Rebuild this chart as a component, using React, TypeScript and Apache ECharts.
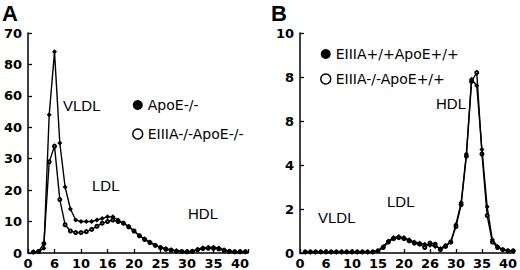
import React, { useEffect, useRef } from "react";
import * as echarts from "echarts";

// Fraction numbers
const FRACTIONS = [
  1, 2, 3, 4, 5, 6, 7, 8, 9, 10, 11, 12, 13, 14, 15, 16, 17, 18, 19, 20, 21,
  22, 23, 24, 25, 26, 27, 28, 29, 30, 31, 32, 33, 34, 35, 36, 37, 38, 39, 40, 41,
];

// Panel A
const A_APOE_KO = [
  0.3, 0.5, 1.5, 44, 64, 35, 21, 14, 10.5, 10, 10, 10, 10.5, 11, 11.5, 11.5, 10.5,
  9.5, 8.5, 7, 5.5, 4.5, 3.5, 2.5, 1.8, 1.4, 1.0, 0.7, 0.5, 0.4, 0.6, 1.2, 1.7, 1.8,
  1.8, 1.6, 1.0, 0.6, 0.4, 0.4, 0.4,
];
const A_EIIIA_KO_APOE_KO = [
  0.3, 0.5, 3, 29, 34, 17, 9, 7, 6.5, 6.5, 6.8, 7.5, 8.5, 9.5, 10, 10.5, 10, 9.5,
  8.3, 7, 5.5, 4.3, 3.3, 2.4, 1.7, 1.2, 0.9, 0.6, 0.5, 0.4, 0.5, 1.0, 1.4, 1.5, 1.5,
  1.3, 0.8, 0.5, 0.4, 0.4, 0.4,
];

// Panel B
const B_WT = [
  0.05, 0.05, 0.05, 0.05, 0.05, 0.05, 0.05, 0.05, 0.05, 0.05, 0.05, 0.05, 0.05,
  0.05, 0.1, 0.3, 0.55, 0.7, 0.75, 0.7, 0.6, 0.5, 0.45, 0.4, 0.35, 0.3, 0.2, 0.35,
  0.5, 1.3, 2.3, 4.5, 7.9, 7.6, 4.7, 2.1, 0.6, 0.3, 0.15, 0.1, 0.1,
];
const B_EIIIA_KO = [
  0.05, 0.05, 0.05, 0.05, 0.05, 0.05, 0.05, 0.05, 0.05, 0.05, 0.05, 0.05, 0.05,
  0.05, 0.1, 0.25, 0.5, 0.65, 0.7, 0.65, 0.55, 0.45, 0.4, 0.25, 0.45, 0.4, 0.15,
  0.3, 0.5, 1.2, 2.2, 4.4, 7.8, 8.2, 4.5, 1.7, 0.5, 0.25, 0.15, 0.1, 0.1,
];

const A_Y_LABELS: Record<number, string> = {
  0: "0", 10: "10", 20: "20", 30: "30", 40: "40", 50: "60", 60: "80", 70: "70",
};
const A_X_LABELS: Record<number, string> = {
  0: "0", 5: "6", 10: "10", 15: "16", 20: "20", 25: "25", 30: "30", 35: "35", 40: "40",
};
const B_Y_LABELS: Record<number, string> = {
  0: "0", 2: "2", 4: "4", 6: "8", 8: "8", 10: "10",
};
const B_X_LABELS: Record<number, string> = {
  0: "0", 5: "6", 10: "10", 15: "15", 20: "20", 25: "26", 30: "30", 35: "35", 40: "40",
};

const NAMES = ["ApoE-/-", "EIIIA-/-ApoE-/-", "EIIIA+/+ApoE+/+", "EIIIA-/-ApoE+/+"];

const pairs = (vals: number[]) => FRACTIONS.map((f, i) => [f, vals[i]]);

export default function App() {
  const ref = useRef<HTMLDivElement>(null);
  useEffect(() => {
    if (!ref.current) return;
    const chart = echarts.init(ref.current, undefined, { renderer: "svg" });
    const tickFont = {
      color: "#000",
      fontFamily: "DejaVu Sans",
      fontWeight: "bold" as const,
      fontSize: 13,
    };
    const axisCommon = {
      axisLine: { show: true, lineStyle: { color: "#000", width: 1.5 } },
      axisTick: { show: true, inside: true, length: 4, lineStyle: { color: "#000", width: 1.3 } },
      splitLine: { show: false },
    };
    const lineSeries = (name: string, data: number[], xi: number, filled: boolean) => ({
      type: "line",
      name,
      xAxisIndex: xi,
      yAxisIndex: xi,
      data: pairs(data),
      symbol: filled ? "diamond" : "emptyCircle",
      symbolSize: filled ? 5 : 3,
      showAllSymbol: true,
      lineStyle: { color: "#000", width: 1.4 },
      itemStyle: filled
        ? { color: "#000" }
        : { color: "#000", borderColor: "#000", borderWidth: 1 },
      z: filled ? 3 : 2,
    });
    const legendText = { color: "#000", fontFamily: "DejaVu Sans", fontSize: 14 };
    const annot = (text: string, x: number, y: number) => ({
      type: "text",
      x,
      y,
      style: {
        text,
        fill: "#000",
        font: "15px 'Liberation Sans', Arial, sans-serif",
        textVerticalAlign: "middle",
      },
    });
    chart.setOption({
      animation: false,
      backgroundColor: "#fff",
      grid: [
        { left: 28, top: 33, width: 220, height: 221 },
        { left: 300, top: 33, width: 218, height: 220 },
      ],
      xAxis: [
        {
          gridIndex: 0,
          type: "value",
          min: 0,
          max: 41.5,
          interval: 5,
          ...axisCommon,
          axisLabel: {
            ...tickFont,
            margin: 4,
            formatter: (v: number) => A_X_LABELS[v] ?? "",
          },
        },
        {
          gridIndex: 1,
          type: "value",
          min: 0,
          max: 41.2,
          interval: 5,
          ...axisCommon,
          axisLabel: {
            ...tickFont,
            margin: 4,
            formatter: (v: number) => B_X_LABELS[v] ?? "",
          },
        },
      ],
      yAxis: [
        {
          gridIndex: 0,
          type: "value",
          min: 0,
          max: 70,
          interval: 10,
          ...axisCommon,
          axisLabel: {
            ...tickFont,
            margin: 6,
            formatter: (v: number) => A_Y_LABELS[v] ?? "",
          },
        },
        {
          gridIndex: 1,
          type: "value",
          min: 0,
          max: 10,
          interval: 2,
          ...axisCommon,
          axisLabel: {
            ...tickFont,
            margin: 6,
            formatter: (v: number) => B_Y_LABELS[v] ?? "",
          },
        },
      ],
      legend: [
        {
          left: 127,
          top: 93,
          orient: "vertical",
          itemWidth: 10,
          itemHeight: 10,
          itemGap: 15,
          textStyle: legendText,
          selectedMode: false,
          data: [
            { name: NAMES[0], icon: "circle", itemStyle: { color: "#000", borderWidth: 0 } },
            {
              name: NAMES[1],
              icon: "circle",
              itemStyle: { color: "#fff", borderColor: "#000", borderWidth: 1.5 },
            },
          ],
        },
        {
          left: 315,
          top: 42,
          orient: "vertical",
          itemWidth: 10,
          itemHeight: 11,
          itemGap: 11,
          textStyle: legendText,
          selectedMode: false,
          data: [
            { name: NAMES[2], icon: "circle", itemStyle: { color: "#000", borderWidth: 0 } },
            {
              name: NAMES[3],
              icon: "circle",
              itemStyle: { color: "#fff", borderColor: "#000", borderWidth: 1.5 },
            },
          ],
        },
      ],
      graphic: [
        {
          type: "text",
          x: 2,
          y: 2,
          style: { text: "A", fill: "#000", font: "bold 22px 'Liberation Sans', Arial, sans-serif" },
        },
        {
          type: "text",
          x: 271,
          y: 2,
          style: { text: "B", fill: "#000", font: "bold 22px 'Liberation Sans', Arial, sans-serif" },
        },
        annot("VLDL", 63, 105),
        annot("LDL", 92, 185),
        annot("HDL", 188, 213),
        annot("HDL", 436, 103),
        annot("LDL", 387, 201),
        annot("VLDL", 318, 217),
      ],
      series: [
        lineSeries(NAMES[0], A_APOE_KO, 0, true),
        lineSeries(NAMES[1], A_EIIIA_KO_APOE_KO, 0, false),
        lineSeries(NAMES[2], B_WT, 1, true),
        lineSeries(NAMES[3], B_EIIIA_KO, 1, false),
      ],
    });
    return () => chart.dispose();
  }, []);
  return (
    <div
      ref={ref}
      style={{ position: "fixed", left: 0, top: 0, width: 520, height: 270, background: "#fff" }}
    />
  );
}
